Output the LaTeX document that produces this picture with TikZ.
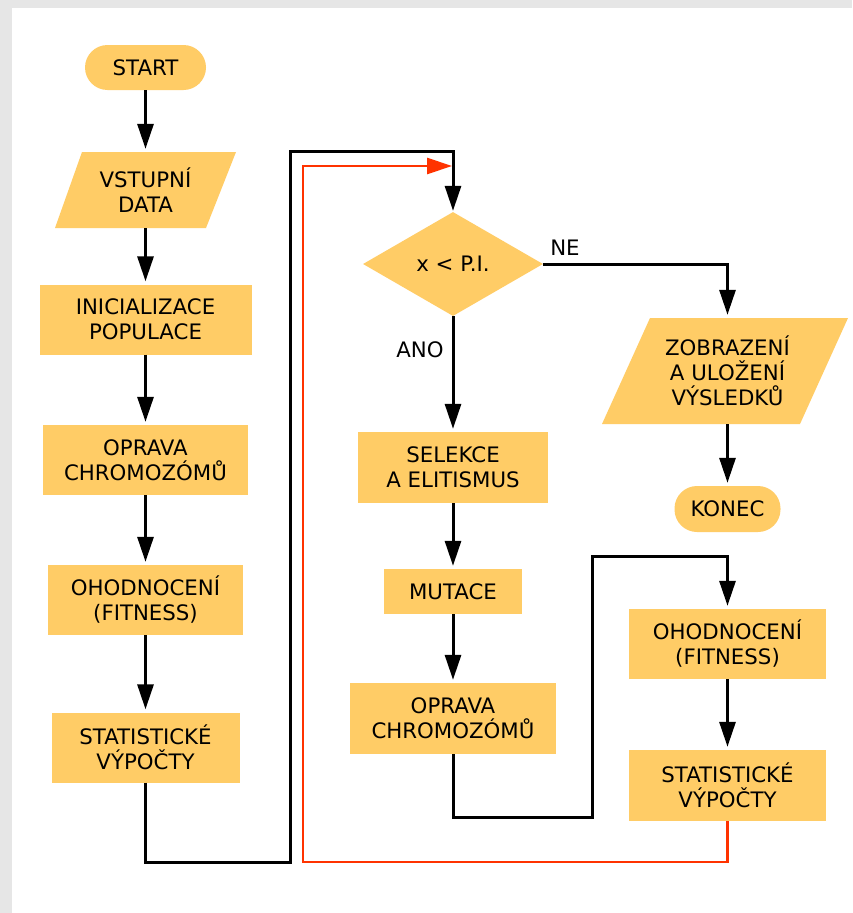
\documentclass[tikz,border=0pt]{standalone}
\usepackage{fontspec}
\setmainfont{DejaVu Sans}
\usetikzlibrary{arrows.meta,shapes.geometric}
\definecolor{boxc}{HTML}{FFCC66}
\definecolor{bgc}{HTML}{E6E6E6}
\definecolor{redc}{HTML}{FF3300}
\begin{document}
\begin{tikzpicture}[x=1pt,y=-1pt,
  every node/.style={font=\fontsize{21.3}{25}\selectfont, align=center, inner sep=0pt},
  blk/.style={rectangle, fill=boxc, minimum width=#1, minimum height=70},
  pill/.style={rectangle, fill=boxc, rounded corners=22.5pt, minimum width=#1, minimum height=45},
  txt/.style={rectangle, minimum width=#1, minimum height=70},
  arr/.style={-{Triangle[length=25pt,width=16pt]}, line width=3pt, shorten >=3pt},
  rarr/.style={draw=redc, -{Triangle[length=25pt,width=16pt]}, line width=2.8pt, line join=miter}
]
\useasboundingbox (0,0) rectangle (852,913);
\fill[bgc] (0,0) rectangle (852,913);
\fill[white] (12,8) rectangle (852,913);

% parallelogram backgrounds
\fill[boxc] (82,152) -- (236,152) -- (206,228) -- (55,228) -- cycle;
\fill[boxc] (650,318) -- (848,318) -- (800,424) -- (602,424) -- cycle;

% left column
\node[pill=121] (start) at (145.5,67.5) {START};
\node[txt=120, minimum height=76] (vstup) at (145.5,190) {VSTUPNÍ\\DATA};
\node[blk=212] (init) at (145.5,319.5) {INICIALIZACE\\POPULACE};
\node[blk=205] (opr1) at (145.5,460) {OPRAVA\\CHROMOZÓMŮ};
\node[blk=195] (ohod1) at (145.5,600) {OHODNOCENÍ\\(FITNESS)};
\node[blk=188] (stat1) at (145.5,747.5) {STATISTICKÉ\\VÝPOČTY};

% middle column
\node[diamond, fill=boxc, minimum width=180, minimum height=104] (dia) at (453,264) {x < P.I.};
\node[blk=190, minimum height=71] (sel) at (453,467.5) {SELEKCE\\A ELITISMUS};
\node[blk=138, minimum height=45] (mut) at (453,591.5) {MUTACE};
\node[blk=206, minimum height=71] (opr2) at (453,718.5) {OPRAVA\\CHROMOZÓMŮ};

% right column
\node[txt=150, minimum height=106] (zob) at (727.5,371) {ZOBRAZENÍ\\A ULOŽENÍ\\VÝSLEDKŮ};
\node[pill=106, minimum height=46] (konec) at (727.5,509) {KONEC};
\node[blk=197] (ohod2) at (727.5,644) {OHODNOCENÍ\\(FITNESS)};
\node[blk=197, minimum height=71] (stat2) at (727.5,785.5) {STATISTICKÉ\\VÝPOČTY};

% labels
\node (ne) at (565,248) {NE};
\node (ano) at (420,349.5) {ANO};

% coordinates for loops
\coordinate (lb) at (290,862);
\coordinate (lt) at (290,151);
\coordinate (rb) at (303,862);
\coordinate (rt) at (303,166);
\coordinate (rend) at (453,166);
\coordinate (mb) at (592,817);
\coordinate (mt) at (592,556);

% connectors
\draw[arr] (start) -- (vstup.north);
\draw[arr] (vstup.south) -- (init.north);
\draw[arr] (init) -- (opr1);
\draw[arr] (opr1) -- (ohod1);
\draw[arr] (ohod1) -- (stat1);
\draw[arr, shorten >=1pt] (stat1.south) |- (lb) -- (lt) -| (dia.north);
\draw[rarr, shorten >=1pt] (stat2.south) |- (rb) -- (rt) -- (rend);
\draw[arr] (dia.east) -| (zob.north);
\draw[arr] (zob.south) -- (konec.north);
\draw[arr] (dia.south) -- (sel.north);
\draw[arr] (sel) -- (mut);
\draw[arr] (mut) -- (opr2);
\draw[arr] (opr2.south) |- (mb) -- (mt) -| (ohod2.north);
\draw[arr] (ohod2) -- (stat2);
\end{tikzpicture}
\end{document}
